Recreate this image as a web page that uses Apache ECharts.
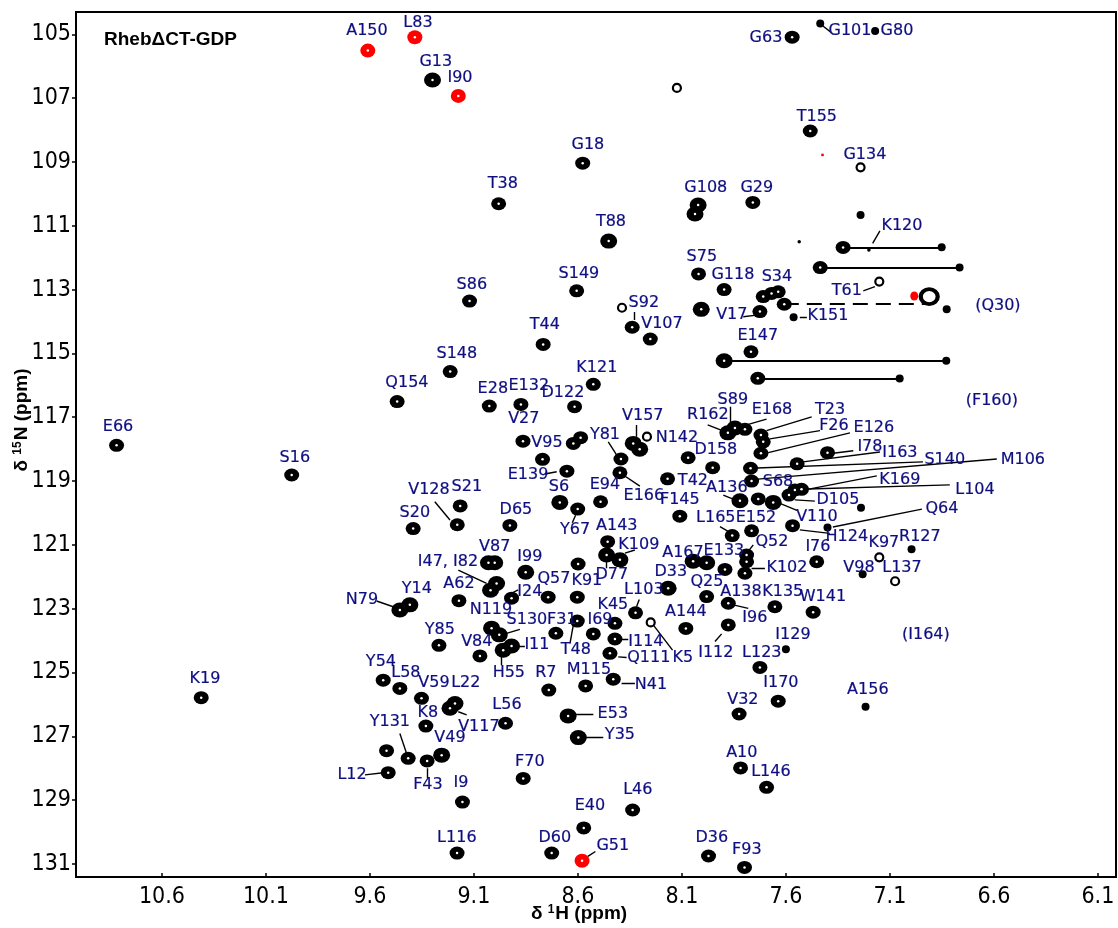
<!DOCTYPE html>
<html><head><meta charset="utf-8">
<script src="https://cdn.jsdelivr.net/npm/echarts@6/dist/echarts.min.js"></script>
<style>html,body{margin:0;padding:0;background:#fff}#c{width:1118px;height:928px}</style>
</head><body><div id="c"></div>
<script>
// Axis ticks (ppm)
const xTicks = [10.6, 10.1, 9.6, 9.1, 8.6, 8.1, 7.6, 7.1, 6.6, 6.1];
const yTicks = [105, 107, 109, 111, 113, 115, 117, 119, 121, 123, 125, 127, 129, 131];

// Peaks [1H, 15N] grouped by appearance class
const bigPeaks = [[9.299,106.43],[8.452,111.48],[8.022,110.35],[8.037,110.63],[8.007,113.62],[7.897,115.23],
 [8.687,119.67],[8.334,117.82],[8.303,118.00],[7.845,117.34],[7.879,117.49],[7.821,119.62],[7.661,119.67],
 [8.046,121.51],[7.981,121.56],[8.166,122.36],[8.398,121.47],[8.462,121.32],[9.030,121.56],[9.000,121.56],
 [8.851,121.86],[8.991,122.21],[9.020,122.42],[9.456,123.04],[9.408,122.88],[9.015,123.61],[8.978,123.82],
 [8.959,124.30],[8.919,124.17],[9.191,125.97],[9.215,126.12],[9.255,127.59],[8.647,126.36],[8.598,127.04]];
const mediumPeaks = [[10.818,117.88],[9.976,118.81],[10.411,125.79],[8.577,109.04],[8.981,110.31],[8.606,113.04],
 [9.121,113.36],[7.570,105.09],[7.483,108.03],[7.759,110.27],[7.325,111.68],[7.435,112.31],[8.020,112.51],
 [7.897,113.00],[7.709,113.22],[7.669,113.12],[7.637,113.07],[7.608,113.46],[7.725,113.69],[8.339,114.18],
 [8.252,114.55],[7.735,115.78],[7.768,114.95],[8.767,114.72],[9.214,115.57],[8.526,115.97],[9.469,116.51],
 [9.026,116.65],[8.874,116.60],[8.616,116.67],[8.864,117.75],[8.622,117.82],[8.587,117.64],[8.770,118.32],
 [8.393,118.31],[8.398,118.74],[8.653,118.69],[8.601,119.88],[8.491,119.65],[9.166,119.78],[9.180,120.37],
 [9.392,120.49],[8.927,120.39],[8.457,120.90],[7.797,117.38],[7.720,117.56],[7.709,117.77],[7.720,118.13],
 [7.400,118.11],[8.070,118.27],[7.952,118.58],[8.169,118.93],[8.110,120.10],[7.546,118.46],[7.770,118.60],
 [7.765,119.00],[7.557,119.28],[7.525,119.26],[7.585,119.44],[7.733,119.56],[7.568,120.40],[7.858,120.71],
 [7.765,120.56],[7.789,121.32],[7.789,121.53],[7.797,121.89],[7.452,121.53],[7.893,121.77],[7.981,122.62],
 [7.877,122.83],[7.653,122.94],[7.469,123.11],[7.877,123.51],[8.081,123.62],[8.323,123.13],[8.422,123.46],
 [8.526,123.79],[8.422,123.95],[8.446,124.40],[8.430,125.21],[8.563,125.42],[7.725,124.84],[7.637,125.90],
 [7.825,126.30],[7.818,127.99],[7.693,128.60],[8.337,129.31],[8.572,129.87],[8.726,130.66],[9.181,130.66],
 [9.155,129.06],[7.972,130.75],[7.799,131.11],[8.863,128.32],[9.172,122.75],[8.919,122.67],[8.743,122.64],
 [8.603,122.64],[8.599,121.60],[8.706,123.77],[8.603,123.39],[9.071,124.48],[9.268,124.15],[9.536,125.24],
 [9.456,125.50],[9.352,125.81],[8.948,126.59],[9.331,126.68],[9.520,127.45],[9.416,127.69],[9.325,127.77],
 [9.512,128.14],[8.740,125.55]];
const smallPeaks = [[7.435,104.66],[7.171,104.90],[7.241,110.66],[6.851,111.67],[6.765,112.31],[7.563,113.87],
 [6.827,113.62],[6.829,115.23],[7.053,115.79],[7.400,120.46],[7.239,119.84],[6.996,121.14],[7.231,121.92],
 [7.217,126.07],[7.600,124.27]];
const tinyPeaks = [[7.536,111.50],[7.201,111.76]];
const ringPeaks = [[8.124,106.68],[7.241,109.17],[7.151,112.75],[8.388,113.57],[8.268,117.61],[7.151,121.39],
 [7.075,122.14],[8.250,123.43]];
const bigRingPeaks = [[6.911,113.22]];
const redPeaks = [[9.610,105.51],[9.384,105.09],[9.175,106.93],[8.580,130.90]];
const redSmallPeaks = [[6.983,113.20]];
const redTinyPeaks = [[7.424,108.78]];

// Shift connectors [H1, H2, N]
const shiftLines = [[7.325,6.851,111.68],[7.435,6.765,112.31],[7.897,6.829,115.23],[7.735,7.053,115.78]];
const dashedShift = [[7.610,6.932,113.45]];

// Assignment labels [text, 1H, 15N] (label anchor)
const labels = [['E66',10.811,117.31],['S16',9.961,118.28],['K19',10.393,125.20],['A150',9.614,104.90],['L83',9.369,104.65],
 ['G13',9.283,105.87],['I90',9.167,106.37],['G18',8.552,108.47],['T38',8.961,109.69],['T88',8.441,110.88],['S149',8.595,112.51],
 ['S86',9.110,112.86],['G63',7.696,105.12],['G101',7.292,104.90],['G80',7.066,104.90],['T155',7.451,107.59],['G134',7.220,108.78],
 ['G108',7.985,109.82],['G29',7.740,109.82],['K120',7.042,111.01],['S75',8.004,111.98],['G118',7.855,112.54],['S34',7.643,112.61],
 ['T61',7.307,113.04],['(Q30)',6.581,113.52],['S92',8.283,113.42],['V17',7.860,113.80],['K151',7.398,113.83],['V107',8.196,114.08],
 ['T44',8.759,114.11],['E147',7.735,114.46],['S148',9.182,115.02],['Q154',9.422,115.93],['K121',8.509,115.46],['E28',9.009,116.12],
 ['E132',8.836,116.02],['D122',8.672,116.24],['(F160)',6.610,116.49],['S89',7.855,116.46],['R162',7.975,116.93],['E168',7.667,116.77],
 ['T23',7.388,116.77],['F26',7.369,117.28],['E126',7.177,117.34],['V27',8.860,117.06],['V157',8.288,116.96],['Y81',8.470,117.56],
 ['N142',8.124,117.65],['V95',8.749,117.81],['D158',7.937,118.03],['I78',7.196,117.93],['I163',7.052,118.12],['S140',6.836,118.34],
 ['M106',6.461,118.34],['E139',8.840,118.81],['K169',7.052,118.97],['T42',8.047,119.00],['S21',9.134,119.19],['S6',8.691,119.19],
 ['E94',8.470,119.12],['A136',7.884,119.22],['S68',7.638,119.03],['V128',9.316,119.28],['L104',6.691,119.28],['E166',8.283,119.47],
 ['F145',8.110,119.59],['D105',7.350,119.59],['D65',8.898,119.91],['Q64',6.850,119.88],['S20',9.384,120.00],['V110',7.451,120.13],
 ['L165',7.937,120.16],['E152',7.744,120.16],['A143',8.413,120.41],['Y67',8.614,120.53],['H124',7.307,120.75],['R127',6.956,120.75],
 ['K97',7.129,120.94],['K109',8.307,121.00],['Q52',7.667,120.91],['V87',9.000,121.07],['I76',7.446,121.07],['E133',7.898,121.19],
 ['A167',8.095,121.26],['I99',8.831,121.38],['I47, I82',9.225,121.54],['V98',7.249,121.73],['L137',7.042,121.73],['K102',7.595,121.73],
 ['D33',8.153,121.85],['D77',8.437,121.94],['Q57',8.715,122.07],['K91',8.557,122.13],['Q25',7.980,122.16],['A62',9.172,122.23],
 ['Y14',9.374,122.38],['L103',8.283,122.42],['I24',8.831,122.48],['A138',7.816,122.48],['K135',7.615,122.48],['W141',7.422,122.63],
 ['N79',9.638,122.73],['K45',8.432,122.89],['N119',9.018,123.04],['A144',8.081,123.10],['I96',7.749,123.29],['S130',8.845,123.35],
 ['F31',8.677,123.35],['I69',8.494,123.35],['Y85',9.264,123.67],['I129',7.566,123.82],['(I164)',6.927,123.82],['I114',8.273,124.04],
 ['V84',9.086,124.04],['I11',8.797,124.14],['T48',8.610,124.30],['I112',7.937,124.39],['L123',7.716,124.39],['Q111',8.259,124.55],
 ['K5',8.095,124.55],['Y54',9.547,124.67],['L58',9.427,125.02],['H55',8.932,125.02],['R7',8.754,125.02],['M115',8.547,124.92],
 ['V59',9.292,125.33],['L22',9.139,125.33],['N41',8.249,125.39],['I170',7.624,125.33],['A156',7.206,125.55],['V32',7.807,125.86],
 ['L56',8.941,126.02],['K8',9.321,126.27],['E53',8.432,126.30],['Y131',9.504,126.55],['V117',9.076,126.71],['Y35',8.398,126.96],
 ['V49',9.215,127.05],['A10',7.812,127.52],['F70',8.831,127.80],['L146',7.672,128.12],['L12',9.686,128.21],['I9',9.162,128.46],
 ['F43',9.321,128.53],['L46',8.312,128.68],['E40',8.542,129.18],['L116',9.182,130.19],['D60',8.711,130.19],['D36',7.956,130.19],
 ['G51',8.432,130.44],['F93',7.788,130.56]];

// Leader lines [H1, N1, H2, N2]
const leaders = [[7.422,104.74,7.384,104.93],[7.183,111.55,7.148,111.16],[7.228,113.04,7.172,112.91],[7.805,113.85,7.741,113.80],
 [7.533,113.86,7.499,113.86],[8.331,113.70,8.331,113.95],[8.321,117.24,8.321,117.61],[8.454,117.77,8.414,118.18],
 [8.398,118.74,8.302,119.16],[8.759,118.78,8.702,118.71],[9.288,119.65,9.215,120.22],[8.627,120.31,8.611,120.07],
 [7.976,117.24,7.893,117.45],[7.866,116.67,7.866,117.19],[7.693,117.06,7.789,117.24],[7.476,116.99,7.693,117.42],
 [7.436,117.42,7.677,117.68],[7.292,117.49,7.685,118.11],[7.373,118.13,7.276,118.05],[7.518,118.40,7.148,118.09],
 [7.740,118.59,6.941,118.40],[7.735,118.94,6.586,118.31],[7.533,119.31,7.163,118.84],[7.494,119.25,6.812,119.12],
 [7.557,119.59,7.461,119.63],[7.901,119.44,7.845,119.59],[7.629,119.70,7.547,119.92],[7.533,120.53,7.389,120.64],
 [7.374,120.44,6.946,119.88],[7.917,120.43,7.861,120.64],[7.757,121.00,7.789,121.27],[7.765,121.73,7.701,121.73],
 [8.374,121.26,8.326,121.16],[8.462,121.73,8.462,121.47],[9.175,121.79,9.039,122.21],[9.568,122.76,9.488,122.94],
 [8.951,122.62,8.887,122.41],[8.951,123.79,8.879,123.65],[8.638,124.09,8.622,123.51],[8.895,124.17,8.855,124.17],
 [8.967,124.40,8.967,124.77],[8.318,122.94,8.305,122.71],[8.238,123.51,8.145,124.30],[8.390,123.96,8.358,123.96],
 [8.406,124.51,8.366,124.53],[8.390,125.34,8.326,125.34],[7.853,122.88,7.781,122.99],[7.941,124.03,7.909,123.79],
 [8.623,126.30,8.526,126.30],[8.575,127.04,8.478,127.04],[9.175,126.23,9.135,126.33],[9.456,126.91,9.424,127.53],
 [9.324,128.00,9.324,128.31],[9.624,128.21,9.536,128.14],[8.552,130.76,8.516,130.61],[9.000,123.45,9.000,123.58]];

const LABEL_COLOR = '#0e0e80';
const pts = a => a.map(p => [p[0], p[1]]);

const series = [
  { type: 'lines', coordinateSystem: 'cartesian2d', silent: true, z: 1,
    lineStyle: { color: '#000', width: 2, opacity: 1 },
    data: shiftLines.map(s => ({ coords: [[s[0], s[2]], [s[1], s[2]]] })) },
  { type: 'lines', coordinateSystem: 'cartesian2d', silent: true, z: 1,
    lineStyle: { color: '#000', width: 2, opacity: 1, type: [15, 8] },
    data: dashedShift.map(s => ({ coords: [[s[0], s[2]], [s[1], s[2]]] })) },
  { type: 'lines', coordinateSystem: 'cartesian2d', silent: true, z: 1,
    lineStyle: { color: '#000', width: 1.4, opacity: 1 },
    data: leaders.map(s => ({ coords: [[s[0], s[1]], [s[2], s[3]]] })) },
  { type: 'scatter', silent: true, z: 3, symbol: 'circle', symbolSize: 8,
    itemStyle: { color: '#fff', borderColor: '#000', borderWidth: 2.2, opacity: 1 }, data: pts(ringPeaks) },
  { type: 'scatter', silent: true, z: 3, symbol: 'circle', symbolSize: [17, 15],
    itemStyle: { color: '#fff', borderColor: '#000', borderWidth: 4, opacity: 1 }, data: pts(bigRingPeaks) },
  { type: 'scatter', silent: true, z: 3, symbol: 'circle', symbolSize: 8,
    itemStyle: { color: '#000', opacity: 1 }, data: pts(smallPeaks) },
  { type: 'scatter', silent: true, z: 3, symbol: 'circle', symbolSize: 3.5,
    itemStyle: { color: '#000', opacity: 1 }, data: pts(tinyPeaks) },
  { type: 'scatter', silent: true, z: 3, symbol: 'circle', symbolSize: [15, 13],
    itemStyle: { color: '#000', opacity: 1 }, data: pts(mediumPeaks) },
  { type: 'scatter', silent: true, z: 3, symbol: 'circle', symbolSize: [17, 15],
    itemStyle: { color: '#000', opacity: 1 }, data: pts(bigPeaks) },
  { type: 'scatter', silent: true, z: 3, symbol: 'circle', symbolSize: [15, 14],
    itemStyle: { color: '#ff0000', opacity: 1 }, data: pts(redPeaks) },
  { type: 'scatter', silent: true, z: 3, symbol: 'circle', symbolSize: [8, 9],
    itemStyle: { color: '#ff0000', opacity: 1 }, data: pts(redSmallPeaks) },
  { type: 'scatter', silent: true, z: 3, symbol: 'rect', symbolSize: 2.5,
    itemStyle: { color: '#ff0000', opacity: 1 }, data: pts(redTinyPeaks) },
  { type: 'scatter', silent: true, z: 4, symbol: 'circle', symbolSize: 2.5,
    itemStyle: { color: '#fff', opacity: 1 }, data: pts(mediumPeaks.concat(bigPeaks, redPeaks)) },
  { type: 'scatter', silent: true, z: 5, symbol: 'circle', symbolSize: 1,
    itemStyle: { color: '#fff', opacity: 1 },
    label: { show: true, position: 'inside', formatter: '{b}', color: LABEL_COLOR, opacity: 1,
      textBorderColor: LABEL_COLOR, textBorderWidth: 0.2,
      fontFamily: 'DejaVu Sans', fontSize: 16, align: 'center', verticalAlign: 'middle' },
    labelLayout: { hideOverlap: false },
    data: labels.map(l => ({ name: l[0], value: [l[1], l[2]] })) }
];

const chart = echarts.init(document.getElementById('c'), null, { renderer: 'canvas' });
chart.setOption({
  animation: false,
  backgroundColor: '#fff',
  grid: { left: 76, right: 2, top: 12, bottom: 51, show: true, borderColor: '#000', borderWidth: 2, backgroundColor: 'transparent' },
  xAxis: {
    type: 'value', inverse: true, min: 6.013, max: 11.013,
    axisLine: { show: true, lineStyle: { color: '#000', width: 2 } },
    splitLine: { show: false },
    axisTick: { show: true, inside: true, length: 4, lineStyle: { color: '#000', width: 1.5 }, customValues: xTicks },
    axisLabel: { customValues: xTicks, formatter: v => v.toFixed(1), color: '#000', margin: 9,
      fontFamily: '"Liberation Sans Narrow", "DejaVu Sans Condensed", "Liberation Sans", sans-serif', fontSize: 23 }
  },
  yAxis: {
    type: 'value', inverse: true, min: 104.301, max: 131.409,
    axisLine: { show: true, lineStyle: { color: '#000', width: 2 } },
    splitLine: { show: false },
    axisTick: { show: true, inside: false, length: 4, lineStyle: { color: '#000', width: 1.5 }, customValues: yTicks },
    axisLabel: { customValues: yTicks, formatter: v => String(Math.round(v)), color: '#000', margin: 5,
      fontFamily: '"Liberation Sans Narrow", "DejaVu Sans Condensed", "Liberation Sans", sans-serif', fontSize: 23 }
  },
  graphic: [
    { type: 'text', left: 104, top: 30, silent: true,
      style: { text: 'RhebΔCT-GDP', font: 'bold 19px "Liberation Sans", Arial, sans-serif', fill: '#000' } },
    { type: 'text', x: 579, y: 914, silent: true,
      style: { text: '{a|δ }{s|1}{a|H (ppm)}', align: 'center', verticalAlign: 'middle',
        rich: { a: { font: 'bold 19px "Liberation Sans", Arial, sans-serif', fill: '#000' },
                s: { font: 'bold 12px "Liberation Sans", Arial, sans-serif', fill: '#000', verticalAlign: 'top', padding: [0,1,8,0] } } } },
    { type: 'text', x: 22, y: 420, rotation: Math.PI / 2, silent: true,
      style: { text: '{a|δ }{s|15}{a|N (ppm)}', align: 'center', verticalAlign: 'middle',
        rich: { a: { font: 'bold 19px "Liberation Sans", Arial, sans-serif', fill: '#000' },
                s: { font: 'bold 12px "Liberation Sans", Arial, sans-serif', fill: '#000', verticalAlign: 'top', padding: [0,1,8,0] } } } }
  ],
  series: series
});
</script>
</body></html>
